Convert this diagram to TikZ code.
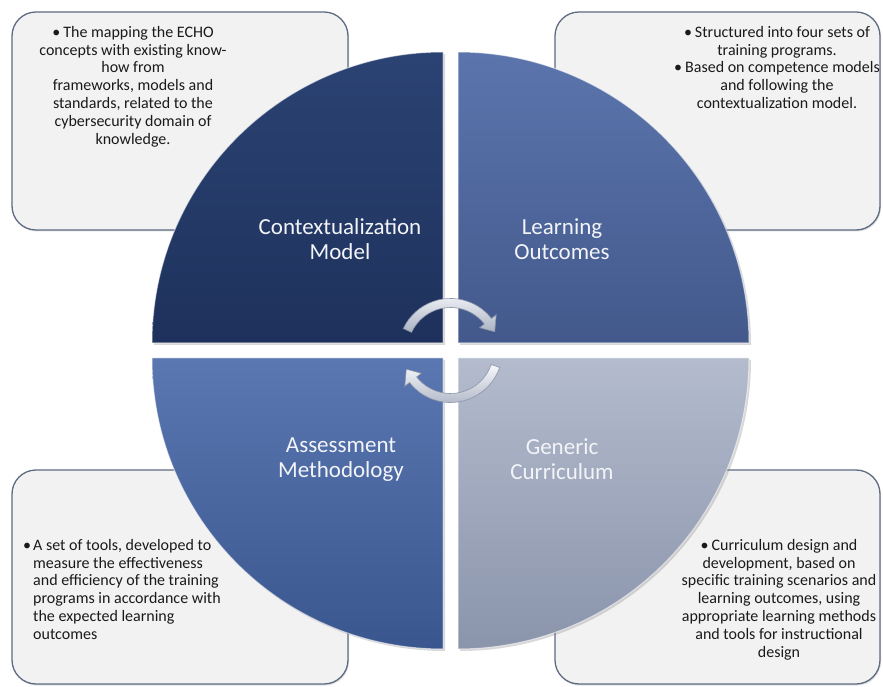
\documentclass[tikz,border=0pt]{standalone}
\usepackage{fontspec}
\setmainfont{Carlito}
\usetikzlibrary{shadows}
\definecolor{boxfill}{HTML}{F2F2F2}
\definecolor{boxline}{HTML}{5E6B82}
\definecolor{textcol}{HTML}{1A1A1A}
\definecolor{labelcol}{HTML}{F2F4F8}
\definecolor{tlTop}{HTML}{2B4373}
\definecolor{tlBot}{HTML}{1E315C}
\definecolor{trTop}{HTML}{5B75AC}
\definecolor{trBot}{HTML}{43598C}
\definecolor{blTop}{HTML}{5A77B1}
\definecolor{blBot}{HTML}{3A568F}
\definecolor{brTop}{HTML}{B3BBCD}
\definecolor{brBot}{HTML}{8A94AB}
\definecolor{arrTop}{HTML}{F7F8FB}
\definecolor{arrBot}{HTML}{A9B1C2}
\definecolor{arrLine}{HTML}{8C94A6}
\begin{document}
\begin{tikzpicture}[x=1pt,y=1pt,
  infobox/.style={draw=boxline, line width=1.3pt, fill=boxfill, rounded corners=24pt,
    inner sep=0pt, drop shadow={shadow xshift=1pt, shadow yshift=-1.5pt, opacity=0.25}},
  smalltext/.style={font=\fontsize{16}{17.8}\selectfont, text=textcol, inner sep=0pt},
  bigtext/.style={font=\fontsize{23}{25}\selectfont, text=labelcol, align=center, inner sep=0pt, anchor=north},
  quad/.style={draw=white, draw opacity=0.55, line width=1pt,
    drop shadow={shadow xshift=2pt, shadow yshift=-2pt, opacity=0.3}},
  cyclearrow/.style={draw=arrLine, line width=0.6pt, top color=arrTop, bottom color=arrBot}]
\useasboundingbox (0,0) rectangle (883,686);
\fill[white] (0,0) rectangle (883,686);

% corner boxes
\node[infobox, minimum width=336pt, minimum height=218pt] (boxTL) at (180,565) {};
\node[infobox, minimum width=325pt, minimum height=218pt] (boxTR) at (717.5,565) {};
\node[infobox, minimum width=336pt, minimum height=214pt] (boxBL) at (180,109) {};
\node[infobox, minimum width=325pt, minimum height=214pt] (boxBR) at (717.5,109) {};

\node[smalltext, align=center, anchor=north] (txtTL) at (133,660)
  {•\hspace{3pt}The mapping the ECHO\\concepts with existing know-\\how from\\frameworks, models and\\standards, related to the\\cybersecurity domain of\\knowledge.};
\node[smalltext, align=center, anchor=north] (txtTR) at (777,660)
  {•\hspace{3pt}Structured into four sets of\\training programs.\\•\hspace{3pt}Based on competence models\\and following the\\contextualization model.};
\node[smalltext, align=left, anchor=north west] (txtBL) at (33,147)
  {\llap{•\hspace{2pt}}A set of tools, developed to\\measure the effectiveness\\and efficiency of the training\\programs in accordance with\\the expected learning\\outcomes};
\node[smalltext, align=center, anchor=north] (txtBR) at (779,147)
  {•\hspace{3pt}Curriculum design and\\development, based on\\specific training scenarios and\\learning outcomes, using\\appropriate learning methods\\and tools for instructional\\design};

% quadrants
\path[quad, top color=tlTop, bottom color=tlBot]
  (443,343) -- (152,343) arc[start angle=180, end angle=90, radius=291] -- cycle;
\path[quad, top color=trTop, bottom color=trBot]
  (458,343) -- (458,634) arc[start angle=90, end angle=0, radius=291] -- cycle;
\path[quad, top color=blTop, bottom color=blBot]
  (443,328) -- (152,328) arc[start angle=180, end angle=270, radius=291] -- cycle;
\path[quad, top color=brTop, bottom color=brBot]
  (458,328) -- (749,328) arc[start angle=0, end angle=-90, radius=291] -- cycle;

\node[bigtext] (labTL) at (340,468) {Contextualization\\Model};
\node[bigtext] (labTR) at (562,468) {Learning\\Outcomes};
\node[bigtext] (labBL) at (341,248) {Assessment\\Methodology};
\node[bigtext] (labBR) at (562,248) {Generic\\Curriculum};

% cycle arrows
\begin{scope}[shift={(450.5,335.5)}]
  \path[cyclearrow] (155:52) arc[start angle=155, end angle=38, radius=52]
    -- (38:58) -- (23:48) -- (38:37) -- (38:43)
    arc[start angle=38, end angle=155, radius=43] -- cycle;
  \path[cyclearrow] (-19:52) arc[start angle=-19, end angle=-142, radius=52]
    -- (-142:58) -- (-157:48) -- (-142:37) -- (-142:43)
    arc[start angle=-142, end angle=-19, radius=43] -- cycle;
\end{scope}
\end{tikzpicture}
\end{document}
